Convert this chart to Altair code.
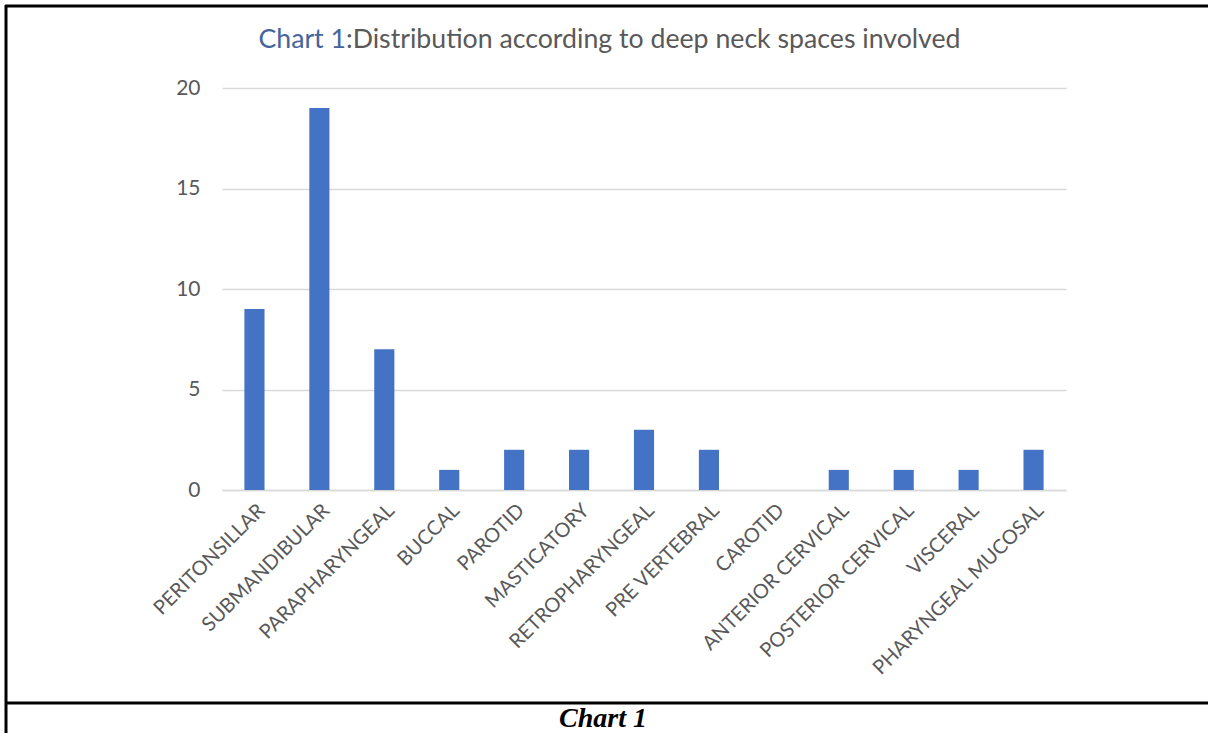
import altair as alt
import pandas as pd

# Deep neck spaces involved and number of cases in each
spaces = [
    "PERITONSILLAR", "SUBMANDIBULAR", "PARAPHARYNGEAL", "BUCCAL", "PAROTID",
    "MASTICATORY", "RETROPHARYNGEAL", "PRE VERTEBRAL", "CAROTID",
    "ANTERIOR CERVICAL", "POSTERIOR CERVICAL", "VISCERAL", "PHARYNGEAL MUCOSAL",
]
cases = [9, 19, 7, 1, 2, 2, 3, 2, 0, 1, 1, 1, 2]
y_ticks = [0, 5, 10, 15, 20]

title_lead = "Chart 1"
title_rest = ":Distribution according to deep neck spaces involved"
caption = "Chart 1"

df = pd.DataFrame({"space": spaces, "cases": cases})

FONT = "Lato"
GRAY = "#595959"
W, H = 844, 402
LEFT, TOP = 222, 88
TOTAL_W, TOTAL_H = 1208, 733

bars = alt.Chart(df).mark_bar(color="#4472C4").encode(
    x=alt.X(
        "space:N", sort=spaces, title=None,
        scale=alt.Scale(paddingInner=0.69, paddingOuter=0.345),
        axis=alt.Axis(
            labelAngle=-45, labelFont=FONT, labelFontSize=20, labelColor=GRAY,
            labelPadding=10, ticks=False, domainColor="#D9D9D9", domainWidth=1.5,
            labelOverlap=False, labelLimit=0,
        ),
    ),
    y=alt.Y(
        "cases:Q", title=None,
        scale=alt.Scale(domain=[0, 20], nice=False),
        axis=alt.Axis(
            values=y_ticks, labelFont=FONT, labelFontSize=21, labelColor=GRAY,
            labelPadding=22, ticks=False, domain=False, gridColor="#D9D9D9",
            gridWidth=1.5,
        ),
    ),
)

one = alt.Data(values=[{}])

# Two-colour chart heading
head_lead = alt.Chart(one).mark_text(
    text=title_lead, font=FONT, fontSize=26.7, color="#45649B",
    align="right", baseline="alphabetic",
).encode(x=alt.value(346 - LEFT), y=alt.value(48 - TOP))

head_rest = alt.Chart(one).mark_text(
    text=title_rest, font=FONT, fontSize=26.7, color=GRAY,
    align="left", baseline="alphabetic",
).encode(x=alt.value(346 - LEFT), y=alt.value(48 - TOP))

# Figure caption under the separator line
cap = alt.Chart(one).mark_text(
    text=caption, font="Liberation Serif", fontSize=28, fontWeight="bold",
    fontStyle="italic", color="black", align="center", baseline="middle",
).encode(x=alt.value(603 - LEFT), y=alt.value(719 - TOP))

# Table frame lines
frame_top = alt.Chart(one).mark_rule(color="black", strokeWidth=3).encode(
    x=alt.value(5 - LEFT), x2=alt.value(TOTAL_W - LEFT), y=alt.value(6 - TOP)
)
frame_left = alt.Chart(one).mark_rule(color="black", strokeWidth=3).encode(
    x=alt.value(6 - LEFT), y=alt.value(5 - TOP), y2=alt.value(TOTAL_H - TOP)
)
frame_mid = alt.Chart(one).mark_rule(color="black", strokeWidth=3).encode(
    x=alt.value(5 - LEFT), x2=alt.value(TOTAL_W - LEFT), y=alt.value(703 - TOP)
)

chart = alt.layer(
    bars, head_lead, head_rest, cap, frame_top, frame_left, frame_mid
).properties(
    width=W, height=H,
    autosize=alt.AutoSizeParams(type="none"),
    padding={"left": LEFT, "top": TOP, "right": TOTAL_W - LEFT - W,
             "bottom": TOTAL_H - TOP - H},
    background="white",
).configure_view(stroke=None)

chart.save("out.html", embed_options={"renderer": "svg", "actions": False})
